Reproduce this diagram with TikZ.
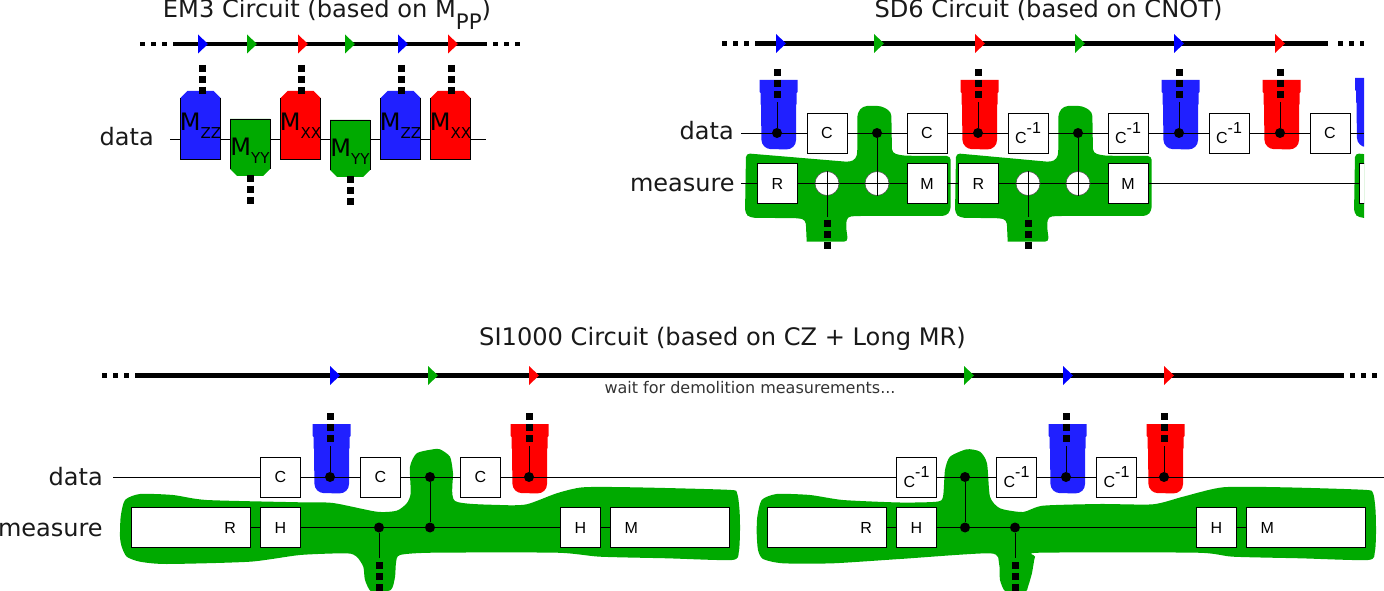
\documentclass[tikz,border=0pt]{standalone}
\usepackage{fontspec}
\setmainfont{DejaVu Sans}
\newfontfamily\gatefont{Liberation Sans}
\definecolor{qblue}{HTML}{2020FF}
\definecolor{tblue}{HTML}{0000FF}
\definecolor{qred}{HTML}{FF0000}
\definecolor{qgreen}{HTML}{00AA00}
\newcommand{\cinv}{\raisebox{-5pt}{C}\raisebox{3pt}{-1}}
\newcommand{\msub}[1]{\makebox[30pt][c]{M\raisebox{-6pt}{\fontsize{11.25}{12}\selectfont #1}}}
\tikzset{x=0.75pt,y=-0.75pt,line width=0.9pt,
    titlenode/.style={text=black!90,font=\fontsize{18.1}{20}\selectfont,inner sep=0pt,anchor=base},
    rowname/.style={text=black!90,font=\fontsize{18}{20}\selectfont,inner sep=0pt,anchor=base east},
    gate/.style={draw,fill=white,minimum size=30pt,inner sep=0pt,font=\gatefont\fontsize{12}{14}\selectfont},
    longgate/.style={gate,minimum width=89.25pt,text width=67.25pt,inner xsep=11pt},
    ctrl/.style={circle,fill=black,minimum size=7.5pt,inner sep=0pt},
    target/.style={circle,draw=black!70,fill=white,minimum size=18pt,inner sep=0pt},
    tline/.style={line width=3.6pt},
    tdots/.style={line width=3.6pt,dash pattern=on 3.75pt off 4.5pt},
    mdots/.style={line width=5.25pt,dash pattern=on 5.25pt off 3pt},
    tick/.pic={\path[pic actions] (0,-9.5) -- (10,0) -- (0,9.5) -- cycle;},
    mup/.pic={
        \path[pic actions] (-20,-27) -- (-13,-34) -- (13,-34) -- (20,-27) -- (20,34) -- (-20,34) -- cycle;
        \draw (-20,-27) -- (-20,34) -- (20,34) -- (20,-27);
        \node[inner sep=0pt,anchor=base,font=\fontsize{18}{20}\selectfont] (-text) at (0,6) {\msub{#1}};},
    mdown/.pic={
        \path[pic actions] (-20,-29) -- (20,-29) -- (20,21) -- (13,28) -- (-13,28) -- (-20,21) -- cycle;
        \draw (-20,21) -- (-20,-29) -- (20,-29) -- (20,21);
        \node[inner sep=0pt,anchor=base,font=\fontsize{18}{20}\selectfont] (-text) at (0,8) {\msub{#1}};},
    bell/.pic={
        \path[pic actions] (-18,-53) -- (20,-53) -- (20,-41) -- (19,-40) -- (19,-29) -- (18.5,-28) -- (18.5,-2)
            [rounded corners=7pt] -- (18.5,16.5) -- (-16,16) [sharp corners] -- (-16.5,-28) -- (-17,-29) -- (-17,-40) -- (-18,-41) -- cycle;},
    sdblob/.pic={
        \fill[qgreen,rounded corners=3pt] ({746+#1},153.3) -- (850,162) -- (856,159) -- (857.3,153) -- (857.3,113)
            -- (863,106) -- (881.7,106) -- (891.3,112) -- (892,153) -- (903,155.7) -- (950.7,156) -- (950.7,210.7)
            -- (946,216) -- (856.7,216) -- (847,216.7) -- (846,226.7) -- (848,241.7) [sharp corners] -- (806.7,241.7) [rounded corners=3pt]
            -- (805.7,220) -- (800,218.3) -- ({750+#1},217.7) -- ({745+#1},213.3) -- cycle;},
}

\begin{document}
\begin{tikzpicture}
    \useasboundingbox (0,0) rectangle (1384,591);

    %% EM3
    \node[titlenode] (emtitle) at (327,17.5) {EM3 Circuit (based on M\raisebox{-8.8pt}{\fontsize{16}{18}\selectfont PP})};
    \coordinate (emdl1) at (140,44); \coordinate (emdl2) at (169,44);
    \coordinate (emdr1) at (493,44); \coordinate (emdr2) at (522,44);
    \coordinate (emt1) at (173,44); \coordinate (emt2) at (487,44);
    \draw[tdots] (emdl1) -- (emdl2);
    \draw[tdots] (emdr1) -- (emdr2);
    \draw[tline] (emt1) -- (emt2);
    \foreach \x/\c in {198/tblue,247/qgreen,298/qred,345/qgreen,398/tblue,448/qred}
        \pic[fill=\c] at (\x,44) {tick};

    \node[rowname] (emdata) at (154,146) {data};
    \coordinate (emw1) at (170,139); \coordinate (emw2) at (486,139);
    \draw (emw1) -- (emw2);
    \pic[fill=qblue] (emzza) at (200.5,125) {mup=ZZ};
    \pic[fill=qgreen] (emyya) at (250,148) {mdown=YY};
    \pic[fill=qred] (emxxa) at (300.5,125) {mup=XX};
    \pic[fill=qgreen] (emyyb) at (350,149) {mdown=YY};
    \pic[fill=qblue] (emzzb) at (400.5,125) {mup=ZZ};
    \pic[fill=qred] (emxxb) at (450.5,125) {mup=XX};
    \foreach \x/\y in {202/65,301/65,401/65,451/65,250/175,350/176} {
        \coordinate (dota) at (\x,\y);
        \coordinate (dotb) at (\x,\y+29);
        \draw[mdots] (dota) -- (dotb);
    }

    %% SD6
    \node[titlenode] (sdtitle) at (1048.5,18) {SD6 Circuit (based on CNOT)};
    \coordinate (sddl1) at (722,43.5); \coordinate (sddl2) at (751,43.5);
    \coordinate (sddr1) at (1338,43.5); \coordinate (sddr2) at (1364,43.5);
    \coordinate (sdt1) at (755,43.5); \coordinate (sdt2) at (1328,43.5);
    \draw[tdots] (sddl1) -- (sddl2);
    \draw[tdots] (sddr1) -- (sddr2);
    \draw[tline] (sdt1) -- (sdt2);
    \foreach \x/\c in {776/tblue,874/qgreen,975/qred,1075/qgreen,1174/tblue,1275/qred}
        \pic[fill=\c] at (\x,43.5) {tick};

    \pic at (0,0) {sdblob=0};
    \pic at (201,0) {sdblob=9};
    \foreach \x/\c in {777.5/qblue,978.5/qred,1179.5/qblue,1280.5/qred}
        \pic[fill=\c] at (\x,133) {bell};
    \begin{scope}
        \clip (600,0) rectangle (1364,260);
        \pic at (602,0) {sdblob=7};
        \pic[fill=qblue] at (1373,131) {bell};
        \coordinate (sdd1) at (741,133); \coordinate (sdd2) at (1364,133);
        \coordinate (sdm1) at (741,183.5); \coordinate (sdm2) at (1364,183.5);
        \draw (sdd1) -- (sdd2);
        \draw (sdm1) -- (sdm2);
        \node[gate] (sdr3) at (1379,183.5) {R};
    \end{scope}
    \node[rowname] (sddata) at (734,140) {data};
    \node[rowname] (sdmeas) at (735,192) {measure};
    \foreach \x/\t in {827/C,927/C,1028/\cinv,1128/\cinv,1229/\cinv,1330/C}
        \node[gate] (sdc\x) at (\x,133) {\t};
    \foreach \x/\t in {777.5/R,927/M,978.5/R,1128/M}
        \node[gate] (sdg\x) at (\x,183.5) {\t};
    \foreach \x in {777,978,1179,1280} {
        \node[ctrl] (sdq\x) at (\x,133) {};
        \coordinate (sdu\x) at (\x,102);
        \draw (sdq\x) -- (sdu\x);
        \coordinate (dota) at (\x,69);
        \coordinate (dotb) at (\x,98);
        \draw[mdots] (dota) -- (dotb);
    }
    \foreach \x in {877,1078} {
        \node[ctrl] (sdq\x) at (\x,133) {};
        \node[target] (sdp\x) at (\x,183.5) {};
        \draw (sdp\x.west) -- (sdp\x.east);
        \draw (sdq\x) -- (sdp\x.south);
    }
    \foreach \x in {827,1028} {
        \node[target] (sdp\x) at (\x,183.5) {};
        \coordinate (sdl\x) at (\x,217);
        \draw (sdp\x.west) -- (sdp\x.east);
        \draw (sdp\x.north) -- (sdl\x);
        \coordinate (dota) at (\x,220);
        \coordinate (dotb) at (\x,249);
        \draw[mdots] (dota) -- (dotb);
    }

    %% SI1000
    \node[titlenode] (sititle) at (722.5,345.5) {SI1000 Circuit (based on CZ + Long MR)};
    \coordinate (sidl1) at (102,375.5); \coordinate (sidl2) at (131,375.5);
    \coordinate (sidr1) at (1350,375.5); \coordinate (sidr2) at (1379,375.5);
    \coordinate (sit1) at (135,375.5); \coordinate (sit2) at (1344,375.5);
    \draw[tdots] (sidl1) -- (sidl2);
    \draw[tdots] (sidr1) -- (sidr2);
    \draw[tline] (sit1) -- (sit2);
    \foreach \x/\c in {330/tblue,428/qgreen,529/qred,964/qgreen,1063/tblue,1164/qred}
        \pic[fill=\c] at (\x,375.5) {tick};
    \node[inner sep=0pt,text=black!80,font=\fontsize{12}{14}\selectfont] (siwait) at (750,388) {wait for demolition measurements...};

    \fill[qgreen] plot[smooth cycle,tension=.4] coordinates {(120,536.7) (120.7,516.7) (125,500) (140,494) (173,495)
        (206.7,500) (300,502.3) (333,503) (376.7,511.7) (396.7,510.7) (406.7,503.3) (410.7,493.3) (410,466.7)
        (416.7,453.3) (433,449.3) (440,449.3) (450,456.7) (453,473) (455,501) (500,505) (526.7,504.3)
        (556.7,493.3) (583,487.3) (633,487.3) (728,489.8) (737,493) (739.5,510) (740,530) (738.8,552) (732,560)
        (667,558.3) (600,556.7) (556.7,552.7) (433,552.7) (400,555) (396,563) (395,577) (390.7,590) (371.7,592)
        (365,580) (363.3,566.7) (356.7,556.7) (346.7,553.3) (300,555) (250,561.7) (166.7,564) (140,561.7)
        (126.7,556.7) (121.7,546.7)};
    \fill[qgreen] plot[smooth cycle,tension=.4] coordinates {(756.7,533) (757.3,516.7) (761.7,500) (776.7,494) (810,495)
        (843,500) (900,502.5) (936.7,501.7) (943,496.7) (945,470) (950,456.7) (966.7,449.3) (980,451.7)
        (987,463.3) (990,496.7) (1000,508.3) (1023,512) (1043,505.7) (1100,504) (1153,504.3) (1183,496.7)
        (1223,487.3) (1283,487.3) (1364,489.8) (1373,493) (1375.5,510) (1376,533) (1374.8,552) (1368,560) (1300,558.3)
        (1233,556.7) (1196.7,552.7) (1040,552.7) (1035,556.7) (1032,573) (1028,586.7) (1025,592) (1006,592)
        (1000,580) (999,563.3) (990,553.3) (900,559) (833,563.3) (783,563.3) (763,559) (758,550)};
    \foreach \x/\c in {330.5/qblue,528.5/qred,1066.5/qblue,1164.5/qred}
        \pic[fill=\c] at (\x,477) {bell};

    \node[rowname] (sidata) at (103,485) {data};
    \node[rowname] (simeas) at (103,536) {measure};
    \coordinate (sid1) at (113,477); \coordinate (sid2) at (1384,477);
    \draw (sid1) -- (sid2);
    \foreach \x/\t in {280.5/C,380.5/C,480.5/C,916.5/\cinv,1016.5/\cinv,1116.5/\cinv}
        \node[gate] (sic\x) at (\x,477) {\t};

    \node[longgate,align=right] (sirA) at (191,527.5) {R};
    \node[gate] (sihA) at (280.5,527.5) {H};
    \node[gate] (sihB) at (580.5,527.5) {H};
    \node[longgate,align=left] (simA) at (669.5,527.5) {M};
    \node[longgate,align=right] (sirB) at (827,527.5) {R};
    \node[gate] (sihC) at (916.5,527.5) {H};
    \node[gate] (sihD) at (1216.5,527.5) {H};
    \node[longgate,align=left] (simB) at (1305.5,527.5) {M};
    \draw (sirA) -- (sihA) -- (sihB) -- (simA);
    \draw (sirB) -- (sihC) -- (sihD) -- (simB);

    \foreach \x in {330,529,1066,1164} {
        \node[ctrl] (siq\x) at (\x,477) {};
        \coordinate (siu\x) at (\x,446);
        \draw (siq\x) -- (siu\x);
        \coordinate (dota) at (\x,413);
        \coordinate (dotb) at (\x,442);
        \draw[mdots] (dota) -- (dotb);
    }
    \foreach \x in {430,965} {
        \node[ctrl] (siq\x) at (\x,477) {};
        \node[ctrl] (sip\x) at (\x,527.5) {};
        \draw (siq\x) -- (sip\x);
    }
    \foreach \x in {379,1015} {
        \node[ctrl] (sip\x) at (\x,527.5) {};
        \coordinate (sil\x) at (\x,558);
        \draw (sip\x) -- (sil\x);
        \coordinate (dota) at (\x,562);
        \coordinate (dotb) at (\x,591);
        \draw[mdots] (dota) -- (dotb);
    }
\end{tikzpicture}
\end{document}
